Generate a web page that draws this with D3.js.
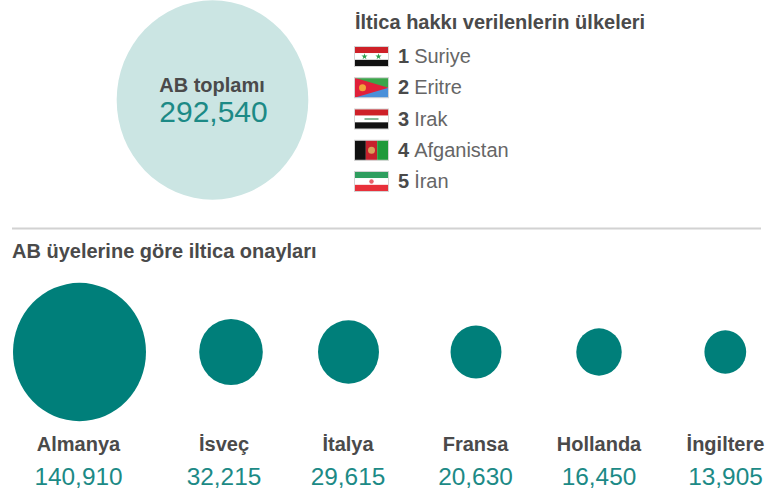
<!DOCTYPE html>
<html>
<head>
<meta charset="utf-8">
<script src="https://cdnjs.cloudflare.com/ajax/libs/d3/7.8.5/d3.min.js"></script>
<style>
html, body { margin: 0; padding: 0; background: #fff; }
svg { display: block; }
text { font-family: "Liberation Sans", Arial, sans-serif; }
</style>
</head>
<body>
<svg id="chart" width="767" height="495"></svg>
<script>
const totalLabel = "AB toplamı";
const totalValue = 292540;
const members = ["Almanya", "İsveç", "İtalya", "Fransa", "Hollanda", "İngiltere"];
const memberValues = [140910, 32215, 29615, 20630, 16450, 13905];
const countries = ["Suriye", "Eritre", "Irak", "Afganistan", "İran"];
const legendTitle = "İltica hakkı verilenlerin ülkeleri";
const sectionTitle = "AB üyelerine göre iltica onayları";

const dark = "#4a4a4a", teal = "#007f7a", tealText = "#1c8a86", pale = "#cbe5e3", grey = "#666";
const fmt = d3.format(",");
const svg = d3.select("#chart");

// circles are slightly taller than wide in the source image
const r = d3.scaleSqrt().domain([0, 140910]).range([0, 66.5]);
const stretch = 1.04;

const circleX = d3.scaleOrdinal().domain(members).range([79.5, 231, 348.5, 476, 599, 725.3]);
const labelX = d3.scaleOrdinal().domain(members).range([78.5, 224, 348, 475.5, 599, 725.5]);

// top circle
svg.append("ellipse")
	.attr("cx", 212.5).attr("cy", 100)
	.attr("rx", r(totalValue)).attr("ry", r(totalValue) * stretch)
	.attr("fill", pale);

svg.append("text").attr("x", 212).attr("y", 92)
	.attr("text-anchor", "middle").attr("font-size", 20).attr("font-weight", "bold")
	.attr("fill", dark).text(totalLabel);

svg.append("text").attr("x", 213.5).attr("y", 122)
	.attr("text-anchor", "middle").attr("font-size", 30)
	.attr("fill", tealText).text(fmt(totalValue));

// legend
svg.append("text").attr("x", 355).attr("y", 29)
	.attr("font-size", 20).attr("font-weight", "bold").attr("fill", dark).text(legendTitle);

const rowY = d3.scalePoint().domain(countries).range([56.5, 181.5]);

const flagW = 34, flagH = 20;

function stripes(g, colors) {
	const h = flagH / colors.length;
	colors.forEach((c, i) => g.append("rect").attr("y", i * h).attr("width", flagW).attr("height", h).attr("fill", c));
}

function star(g, x, y, size, color) {
	g.append("path").attr("transform", `translate(${x},${y})`)
		.attr("d", d3.symbol(d3.symbolStar, size)).attr("fill", color);
}

const flags = {
	"Suriye": g => {
		stripes(g, ["#ce2028", "#fff", "#111"]);
		star(g, 10, 10, 12, "#2f9e4f");
		star(g, 24, 10, 12, "#2f9e4f");
	},
	"Eritre": g => {
		g.append("rect").attr("width", flagW).attr("height", 10).attr("fill", "#3aa64a");
		g.append("rect").attr("y", 10).attr("width", flagW).attr("height", 10).attr("fill", "#4a90d9");
		g.append("path").attr("d", `M0,0L${flagW},10L0,${flagH}Z`).attr("fill", "#e0203a");
		g.append("circle").attr("cx", 8).attr("cy", 10).attr("r", 3.5).attr("fill", "#f2a33a");
	},
	"Irak": g => {
		stripes(g, ["#ce2028", "#fff", "#111"]);
		g.append("rect").attr("x", 10).attr("y", 9).attr("width", 14).attr("height", 2).attr("fill", "#8ab89a");
	},
	"Afganistan": g => {
		["#111", "#c8202c", "#1f9a3a"].forEach((c, i) => g.append("rect").attr("x", i * flagW / 3).attr("width", flagW / 3).attr("height", flagH).attr("fill", c));
		g.append("circle").attr("cx", flagW / 2).attr("cy", 10).attr("r", 3.5).attr("fill", "#d9a05a");
	},
	"İran": g => {
		stripes(g, ["#2f9e5f", "#fff", "#e8303a"]);
		g.append("circle").attr("cx", flagW / 2).attr("cy", 10).attr("r", 2.2).attr("fill", "#e8606a");
	}
};

const rows = svg.selectAll("g.row").data(countries).enter().append("g")
	.attr("class", "row")
	.attr("transform", d => `translate(0,${rowY(d)})`);

rows.append("g")
	.attr("transform", `translate(354.5,${-flagH / 2})`)
	.each(function(d) {
		const g = d3.select(this);
		flags[d](g);
		g.append("rect").attr("width", flagW).attr("height", flagH)
			.attr("fill", "none").attr("stroke", "#d4d4d4").attr("stroke-width", 1);
	});

const rowText = rows.append("text").attr("x", 398).attr("y", 6.5).attr("font-size", 20);
rowText.append("tspan").attr("font-weight", "bold").attr("fill", dark).text((d, i) => i + 1);
rowText.append("tspan").attr("fill", grey).attr("dx", 5).text(d => d);

// divider
svg.append("line").attr("x1", 12).attr("x2", 761).attr("y1", 228.5).attr("y2", 228.5)
	.attr("stroke", "#d2d2d2").attr("stroke-width", 2);

svg.append("text").attr("x", 12).attr("y", 257.5)
	.attr("font-size", 20).attr("font-weight", "bold").attr("fill", dark).text(sectionTitle);

// member circles
const data = members.map((m, i) => ({ name: m, value: memberValues[i] }));

svg.selectAll("ellipse.member").data(data).enter().append("ellipse")
	.attr("class", "member")
	.attr("cx", d => circleX(d.name)).attr("cy", 352)
	.attr("rx", d => r(d.value)).attr("ry", d => r(d.value) * stretch)
	.attr("fill", teal);

svg.selectAll("text.name").data(data).enter().append("text")
	.attr("class", "name")
	.attr("x", d => labelX(d.name)).attr("y", 451)
	.attr("text-anchor", "middle").attr("font-size", 20).attr("font-weight", "bold")
	.attr("fill", dark).text(d => d.name);

svg.selectAll("text.value").data(data).enter().append("text")
	.attr("class", "value")
	.attr("x", d => labelX(d.name)).attr("y", 485)
	.attr("text-anchor", "middle").attr("font-size", 24.4)
	.attr("fill", tealText).text(d => fmt(d.value));
</script>
</body>
</html>
